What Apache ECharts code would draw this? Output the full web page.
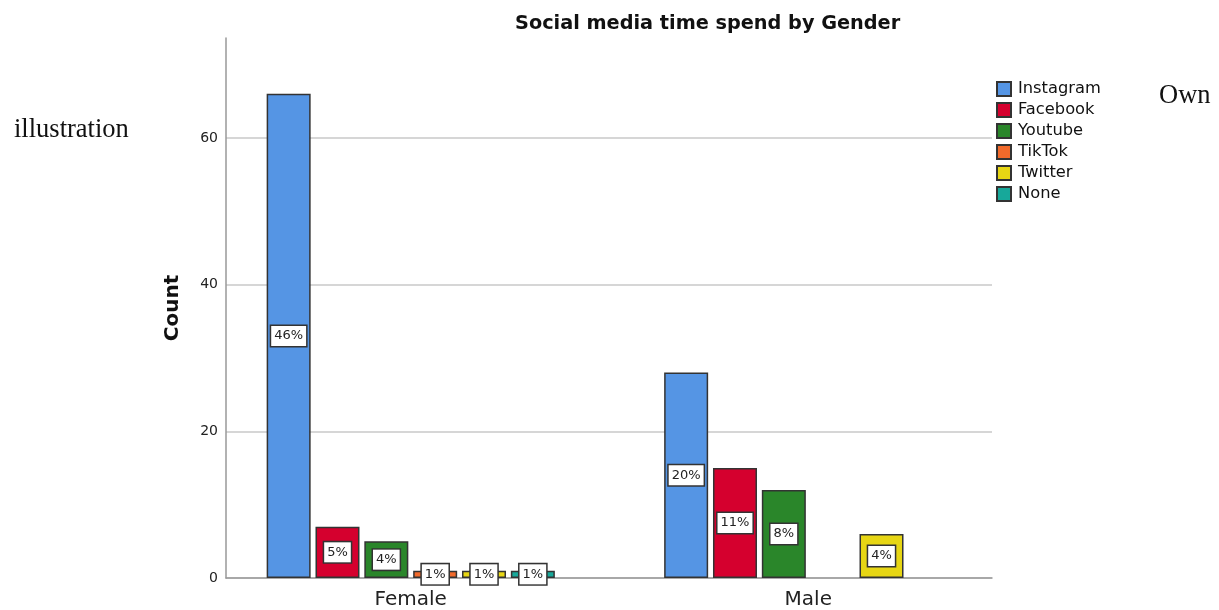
<!DOCTYPE html>
<html><head><meta charset="utf-8">
<script src="https://cdn.jsdelivr.net/npm/echarts@6/dist/echarts.min.js"></script>
<style>html,body{margin:0;padding:0;background:#fff}#c{width:1219px;height:610px}</style>
</head><body><div id="c"></div>
<script>
const categories = ['Female', 'Male'];
const seriesNames = ['Instagram', 'Facebook', 'Youtube', 'TikTok', 'Twitter', 'None'];
const instagram = [66, 28];
const facebook = [7, 15];
const youtube = [5, 12];
const tiktok = [1, 0];
const twitter = [1, 6];
const none = [1, 0];
const instagramPct = ['46%', '20%'];
const facebookPct = ['5%', '11%'];
const youtubePct = ['4%', '8%'];
const tiktokPct = ['1%', ''];
const twitterPct = ['1%', '4%'];
const nonePct = ['1%', ''];
const yTicks = [0, 20, 40, 60];

const colors = ['#5595E4', '#D5002E', '#2A862A', '#F26A2B', '#E7D614', '#17A89A'];
const values = [instagram, facebook, youtube, tiktok, twitter, none];
const pcts = [instagramPct, facebookPct, youtubePct, tiktokPct, twitterPct, nonePct];
const font = 'DejaVu Sans';

const chart = echarts.init(document.getElementById('c'), null, {renderer: 'canvas'});
const series = seriesNames.map((name, i) => ({
  name: name,
  type: 'bar',
  xAxisIndex: 1,
  yAxisIndex: 1,
  barWidth: 44,
  barGap: '11%',
  animation: false,
  itemStyle: {color: colors[i], borderColor: '#333', borderWidth: 1.5},
  label: {
    show: true,
    position: 'inside',
    formatter: p => pcts[i][p.dataIndex],
    fontFamily: font, fontSize: 13, color: '#222',
    backgroundColor: '#fff', borderColor: '#333', borderWidth: 1.5,
    padding: [4, 3, 3, 3]
  },
  data: values[i].map(v => v === 0 ? null : v)
}));

chart.setOption({
  animation: false,
  title: {
    text: 'Social media time spend by Gender',
    left: 515, top: 14, padding: 0,
    textStyle: {fontFamily: font, fontSize: 19.3, fontWeight: 'bold', color: '#111'}
  },
  legend: {
    orient: 'vertical', left: 996, top: 81, padding: 0,
    itemWidth: 14, itemHeight: 14, itemGap: 5, icon: 'rect',
    textStyle: {fontFamily: font, fontSize: 16.3, color: '#111', padding: [0, 0, 0, 2]},
    data: seriesNames
  },
  grid: [
    {left: 226, right: 227, top: 138, bottom: 32},
    {left: 212, right: 212, top: 38, bottom: 32}
  ],
  xAxis: [
    {gridIndex: 0, type: 'value', min: 0, max: 1, axisLine: {show: true, onZero: false, lineStyle: {color: '#999', width: 1.5}},
     axisTick: {show: false}, axisLabel: {show: false}, splitLine: {show: false}},
    {gridIndex: 1, type: 'category', data: categories, axisLine: {show: false}, axisTick: {show: false},
     axisLabel: {fontFamily: font, fontSize: 20, color: '#222', margin: 12}}
  ],
  yAxis: [
    {gridIndex: 0, type: 'value', min: yTicks[0], max: yTicks[yTicks.length - 1], interval: 20,
     axisLine: {show: false}, axisTick: {show: false},
     axisLabel: {fontFamily: font, fontSize: 14, color: '#222', margin: 8, padding: [4, 0, 0, 0]},
     splitLine: {show: true, lineStyle: {color: '#c8c8c8', width: 1.5}}},
    {gridIndex: 1, type: 'value', min: 0, max: 73.6, offset: -14,
     axisLine: {show: true, lineStyle: {color: '#999', width: 1.5}}, axisTick: {show: false},
     axisLabel: {show: false}, splitLine: {show: false},
     name: 'Count', nameLocation: 'middle', nameRotate: 90, nameGap: 43,
     nameTextStyle: {fontFamily: font, fontSize: 20, fontWeight: 'bold', color: '#111'}}
  ],
  graphic: [
    {type: 'text', left: 14, top: 117, style: {text: 'illustration', font: '26.5px "Liberation Serif"', fill: '#111'}},
    {type: 'text', left: 1159, top: 83, style: {text: 'Own', font: '26.5px "Liberation Serif"', fill: '#111'}}
  ],
  series: series
});
</script></body></html>
